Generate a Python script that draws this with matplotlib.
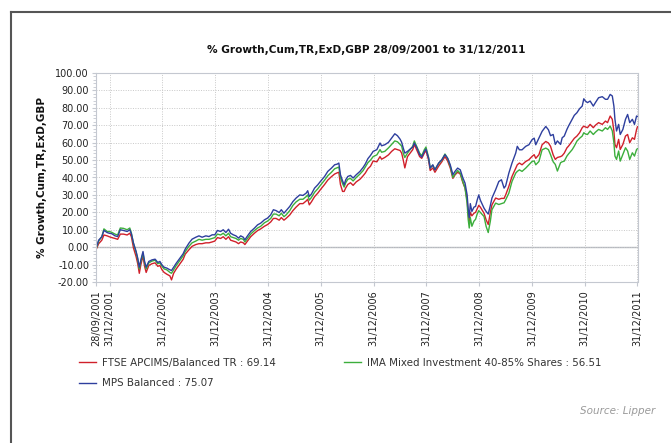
import datetime as dt
import matplotlib
matplotlib.use("Agg")
import matplotlib.pyplot as plt
from matplotlib.lines import Line2D
from matplotlib.ticker import MultipleLocator, FormatStrFormatter

# decimal years
years = [
    2001.74, 2001.79, 2001.85, 2001.89, 2001.95, 2001.99, 2002.04, 2002.10, 2002.15, 2002.20,
    2002.26, 2002.33, 2002.38, 2002.41, 2002.45, 2002.50, 2002.53, 2002.56, 2002.59, 2002.63,
    2002.66, 2002.69, 2002.74, 2002.80, 2002.86, 2002.91, 2002.95, 2002.99, 2003.03, 2003.08,
    2003.14, 2003.17, 2003.21, 2003.26, 2003.33, 2003.39, 2003.43,
    2003.50, 2003.56, 2003.63, 2003.69, 2003.75, 2003.82, 2003.88, 2003.94, 2003.99, 2004.04,
    2004.10, 2004.15, 2004.20, 2004.25, 2004.29, 2004.34, 2004.39, 2004.44, 2004.48, 2004.53,
    2004.56, 2004.61, 2004.67, 2004.74, 2004.80, 2004.86, 2004.93, 2004.99, 2005.05, 2005.10,
    2005.15, 2005.21,
    2005.25, 2005.30, 2005.34, 2005.41, 2005.47, 2005.53, 2005.60, 2005.66, 2005.72, 2005.75,
    2005.78, 2005.82, 2005.88, 2005.94, 2005.99, 2006.07, 2006.13, 2006.20, 2006.26, 2006.31,
    2006.34, 2006.37, 2006.41, 2006.44, 2006.47, 2006.51, 2006.56, 2006.61, 2006.67, 2006.74,
    2006.80, 2006.84, 2006.89, 2006.94,
    2006.99, 2007.06, 2007.12, 2007.15, 2007.21, 2007.28, 2007.34, 2007.40, 2007.45, 2007.50,
    2007.53, 2007.56, 2007.59, 2007.64, 2007.69, 2007.74, 2007.77, 2007.82, 2007.87, 2007.91,
    2007.96, 2007.99, 2008.04, 2008.07, 2008.12, 2008.16, 2008.23, 2008.29, 2008.35, 2008.40,
    2008.45, 2008.50, 2008.54, 2008.59, 2008.64, 2008.69, 2008.73,
    2008.77, 2008.79, 2008.81, 2008.83, 2008.86, 2008.90, 2008.93, 2008.96, 2008.99, 2009.02,
    2009.09, 2009.13, 2009.17, 2009.21, 2009.24, 2009.31, 2009.37, 2009.42, 2009.47, 2009.50,
    2009.56, 2009.62, 2009.69, 2009.72, 2009.76, 2009.81, 2009.88, 2009.94, 2010.00, 2010.04,
    2010.07, 2010.13, 2010.19, 2010.26, 2010.31, 2010.35,
    2010.40, 2010.44, 2010.48, 2010.54, 2010.57, 2010.61, 2010.66, 2010.69, 2010.76, 2010.80,
    2010.85, 2010.90, 2010.95, 2010.98, 2011.01, 2011.05, 2011.10, 2011.16, 2011.20, 2011.26,
    2011.33, 2011.39, 2011.43, 2011.48, 2011.52, 2011.55, 2011.57, 2011.60, 2011.64, 2011.67,
    2011.72, 2011.77, 2011.81, 2011.85, 2011.90, 2011.94, 2011.98, 2011.997,
]

ftse = [
    -1.5, 2, 4, 7, 6.5, 6, 5.5, 5, 4.5, 7.5,
    7.5, 7, 8, 6, -0.5, -5.5, -9.5, -15, -10, -5,
    -11, -14.5, -10.5, -9.5, -9, -11, -10.5, -13, -14.5, -15.5,
    -16.5, -18.8, -15, -12.5, -9.5, -7, -4,
    -1.5, 0.5, 1.5, 2, 2, 2.5, 2.5, 3, 3.5, 5.5,
    5, 6, 4.5, 6, 4, 3.5, 3, 2, 3, 2.5,
    1.5, 3.5, 6, 8, 9.5, 10.5, 12, 13, 14.5, 16.5,
    16.5, 15.5,
    17, 15.5, 16.5, 18.5, 21, 23, 25, 25, 26.5, 27.5,
    24.3, 26, 29, 31, 33, 36, 38.5, 40.5, 42, 42.7,
    43, 36, 32, 32, 34, 36, 37, 35.5, 37.5, 39,
    41, 42.5, 45, 46.5,
    49.5, 49, 52, 50.5, 51.5, 53, 55, 56.5, 56, 55.5,
    54, 50, 45.5, 52, 54, 56, 59, 55.5, 52, 51,
    54, 55.5, 50, 44, 45.5, 43, 46.5, 49, 52, 49.5,
    45.5, 39.5, 41.5, 43, 42, 37, 34,
    27, 19, 15, 20, 18, 19.5, 20, 22, 24, 23,
    19.5, 15.7, 13, 20, 24.3, 28.2, 27.5, 28, 28, 30,
    34.9, 40.6, 45.4, 47.3, 48.3, 47.3, 49.2, 50.2, 52.1, 53.1,
    51, 53.1, 58.8, 60.7, 59.8, 57.9,
    53, 50.4, 51.5, 52, 52.5, 54, 57, 58, 60.9, 62.5,
    63.8, 65.7, 68.6, 69.5, 69, 68.6, 70.5, 68.6, 70, 71.5,
    70.5, 72.4, 71.5, 75.3, 73.4, 66.7, 59, 57.1, 61.9, 56.1,
    59, 63.8, 64.7, 60, 62.8, 61.9, 67.6, 69.14,
]

ima = [
    -1, 3.5, 6, 10.5, 9, 9, 8.5, 7.5, 7, 11,
    10.8, 10, 11, 8, 2, -3, -7, -12.5, -8, -3.5,
    -9, -12.5, -9, -8, -7.5, -9.5, -9, -11, -12.5, -13,
    -14.5, -15, -13, -10.5, -7.5, -5, -2.5,
    0.5, 2.5, 3.5, 4.5, 4, 4.5, 4.5, 5, 5.5, 7.5,
    7, 8, 6.5, 8, 6, 5.5, 5, 4, 5, 4.5,
    3, 5, 7.5, 9.5, 11, 12, 14, 15, 16.5, 19,
    19, 18,
    19.5, 17.5, 18.5, 21, 24, 26, 27.5, 27.5, 29, 30,
    27, 28.5, 31.5, 33.5, 35.5, 38.5, 41, 43, 45, 45.6,
    46, 40, 36.5, 34.5, 37, 39, 39.5, 38, 40, 42,
    44, 46, 48.5, 50,
    52, 53, 56, 54.5, 55, 57, 59, 61, 60.5, 59,
    58, 54, 51.5, 54, 56, 58, 61, 57.5, 54, 52.5,
    56, 57.5, 51.5, 45.5, 47, 44.5, 48, 50, 53.5, 51,
    46.5, 40, 42, 44, 42.5, 37.5, 34,
    25, 16, 11, 17, 12, 15, 16, 19, 21, 20,
    17.6, 11.9, 8.4, 15, 21.5, 25.3, 24.5, 25, 25.5, 27.2,
    31, 37.7, 42.5, 43.5, 44.4, 43.5, 45.4, 47.3, 49.2, 49.5,
    47.3, 49.2, 55.9, 56.9, 56, 53.1,
    49, 47.5, 43.7, 48.5, 49, 49.4, 52.3, 53.5, 56, 58,
    60.9, 62.5, 63.8, 65.7, 65, 64.7, 66.7, 64.7, 66, 67.6,
    66.7, 68.6, 67.6, 69.5, 66.7, 60, 52.3, 50.4, 55.2, 49.4,
    53.3, 57.1, 55.2, 50.4, 54.2, 52.3, 56.1, 56.51,
]

mps = [
    -0.6, 4, 6, 9.6, 8.4, 8, 7.7, 6.5, 6.1, 10,
    9.6, 9, 10, 7.7, 2.3, -2.5, -6.3, -11.5, -7.3, -2.5,
    -8.2, -11.5, -8.2, -7.3, -6.9, -8.8, -8.2, -10.2, -11.5, -12,
    -13, -13.4, -11.5, -9.2, -6.3, -3.8, -1.1,
    2.3, 4.6, 5.7, 6.5, 5.7, 6.5, 6.1, 7.1, 7.1, 9.6,
    9, 10, 8.4, 10.3, 8, 7.1, 6.5, 5.2, 6.5, 5.7,
    4.2, 6.5, 9, 10.9, 12.8, 13.8, 15.7, 16.7, 18.6, 21.5,
    21, 19.9,
    21.5, 19.5, 20.9, 23.4, 26.2, 28.2, 30, 29.7, 31, 32.4,
    29.1, 30.5, 33.9, 35.8, 37.7, 40.6, 43.5, 45.4, 47.3, 47.7,
    48.3, 41.6, 38.1, 35.8, 38.7, 40.6, 41.2, 39.7, 41.6, 43.5,
    45.8, 47.7, 50.8, 52.7,
    55, 56, 59.8, 58.2, 58.8, 60.2, 62.6, 65.1, 64, 62,
    60.2, 56.9, 54, 55, 56.3, 57.5, 59.8, 56.9, 53.1, 51.7,
    55, 56.3, 51.1, 45.4, 47.3, 44.4, 48.3, 50.2, 53.1, 51.1,
    47.3, 41.6, 43.5, 45.4, 44.4, 39.7, 36.8,
    30, 22, 17, 25, 20.5, 23, 23.4, 27, 30, 27,
    22.4, 20.5, 19, 24, 28.2, 33, 37.7, 38.7, 33.9, 35.2,
    42.5, 48.3, 54, 57.9, 55.9, 55.9, 57.9, 58.8, 61.7, 62.6,
    58.8, 62.6, 66.5, 69.3, 67.4, 64,
    64.7, 59, 61, 59, 62.8, 63.8, 67.6, 69.5, 73.4, 75.7,
    77.2, 79.5, 81, 85.2, 83.9, 83, 83.9, 81, 83, 85.8,
    86.4, 84.9, 84.9, 87.7, 86.8, 81, 73.4, 66.7, 70.5, 64.7,
    67.6, 73.4, 76.2, 71.5, 73.4, 70.5, 75.3, 75.07,
]

tick_dates = ["28/09/2001"] + ["31/12/%d" % y for y in range(2001, 2012)]
labels = ["FTSE APCIMS/Balanced TR : 69.14",
          "IMA Mixed Investment 40-85% Shares : 56.51",
          "MPS Balanced : 75.07"]


def dec_year(s):
    d = dt.datetime.strptime(s, "%d/%m/%Y")
    start = dt.datetime(d.year, 1, 1)
    days = (dt.datetime(d.year + 1, 1, 1) - start).days
    return d.year + (d - start).days / days


W, H = 671, 443
fig = plt.figure(figsize=(W / 100, H / 100), dpi=100)
ax = fig.add_axes([96 / W, 1 - 282 / H, 541.5 / W, 209 / H])

grid_c = "#c8c8c8"
axis_c = "#c4c8d0"
ax.grid(True, which="major", color=grid_c, linestyle=(0, (1, 1.5)), lw=0.7)
ax.axhline(0, color="#b4b8c0", lw=1.0, zorder=1.5)

l_ftse, = ax.plot(years, ftse, color="#d0202a", lw=1.0, label=labels[0])
l_ima, = ax.plot(years, ima, color="#3cae3c", lw=1.0, label=labels[1])
l_mps, = ax.plot(years, mps, color="#2e3f9e", lw=1.0, label=labels[2])

ax.set_xlim(dec_year(tick_dates[0]), dec_year(tick_dates[-1]))
ax.set_ylim(-20, 100)
ax.yaxis.set_major_locator(MultipleLocator(10))
ax.yaxis.set_minor_locator(MultipleLocator(2))
ax.yaxis.set_major_formatter(FormatStrFormatter("%.2f"))
ax.set_xticks([dec_year(s) for s in tick_dates])
ax.set_xticklabels(tick_dates, rotation=90, va="top", ha="center")

for sp in ax.spines.values():
    sp.set_color(axis_c)
ax.tick_params(which="both", color=axis_c, labelsize=7, labelcolor="#222222")
ax.tick_params(which="major", length=3)
ax.tick_params(which="minor", length=2)
ax.tick_params(axis="y", pad=2)
ax.tick_params(axis="x", pad=3)

fig.text(366.5 / W, 1 - 50 / H, "% Growth,Cum,TR,ExD,GBP 28/09/2001 to 31/12/2011",
         ha="center", va="center", fontsize=7.6, fontweight="bold", color="#111111")
fig.text(42 / W, 1 - 177 / H, "% Growth,Cum,TR,ExD,GBP", rotation=90,
         ha="center", va="center", fontsize=7.5, fontweight="bold", color="#111111")

leg = fig.legend(handles=[l_ftse, l_mps, l_ima], ncol=2, loc="upper left",
                 bbox_to_anchor=(79 / W, 1 - 358 / H), frameon=False, fontsize=7.4,
                 handlelength=1.65, handletextpad=0.6, columnspacing=6.6,
                 labelspacing=1.0, borderpad=0, borderaxespad=0)
for t in leg.get_texts():
    t.set_color("#333333")

fig.text(655 / W, 1 - 411 / H, "Source: Lipper", ha="right", va="center",
         fontsize=7.5, style="italic", color="#9a9a9a")

# outer frame, top and left edges only
fig.add_artist(Line2D([11 / W, 1], [1 - 12 / H, 1 - 12 / H], transform=fig.transFigure,
                      color="#555555", lw=1.5))
fig.add_artist(Line2D([11 / W, 11 / W], [0, 1 - 12 / H], transform=fig.transFigure,
                      color="#555555", lw=1.5))

fig.savefig("out.png", dpi=100)
